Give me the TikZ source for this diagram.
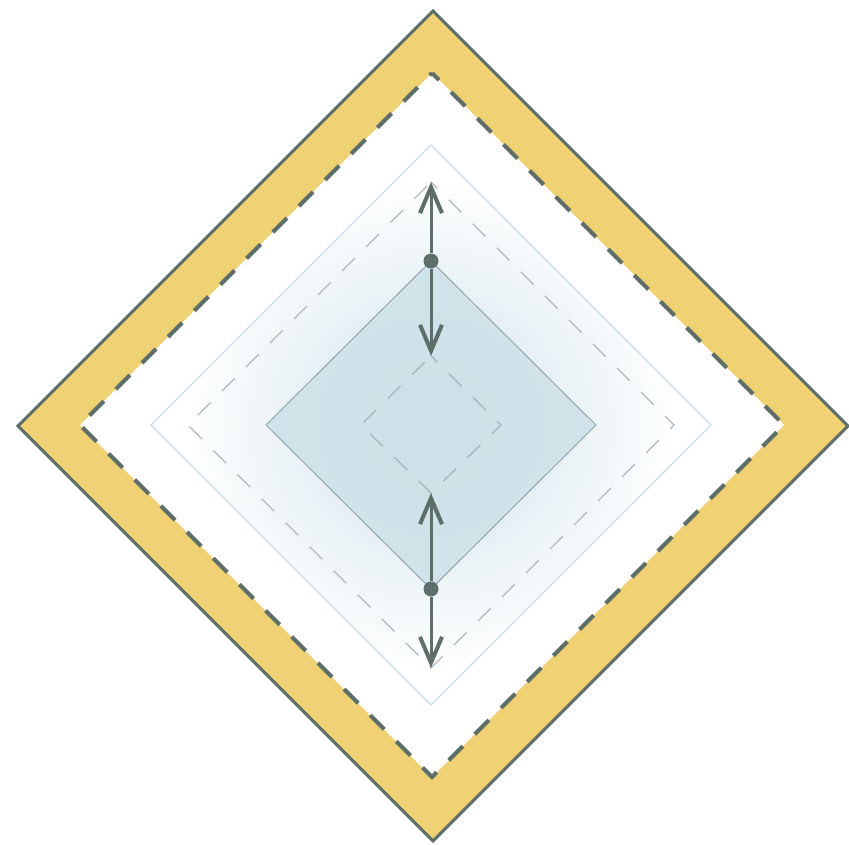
\documentclass[tikz,border=0pt]{standalone}
\usetikzlibrary{arrows.meta}
\definecolor{bandyellow}{HTML}{F0D173}
\definecolor{edgegray}{HTML}{5E6E68}
\definecolor{glowblue}{HTML}{CDE1E8}
\definecolor{rimblue}{HTML}{C9DDE7}
\definecolor{dashgray}{HTML}{B2B8C0}
\definecolor{coregray}{HTML}{94A6AE}
\tikzset{
  bandedge/.style={draw=edgegray,line width=3pt,line join=miter},
  banddash/.style={draw=edgegray,line width=4pt,dash pattern=on 20pt off 17pt,dash phase=10pt},
  softdash/.style={draw=dashgray,line width=1.4pt,dash pattern=on 18pt off 16pt,dash phase=9pt},
  moveline/.style={draw=edgegray,line width=3pt,-{Straight Barb[length=26pt,width=22pt,line width=4pt]}},
  pivot/.style={circle,fill=edgegray,inner sep=0pt,minimum size=15pt}
}
\begin{document}
\begin{tikzpicture}[x=1pt,y=-1pt]
  \useasboundingbox (0,0) rectangle (849,845);
  % outer band
  \coordinate (ot) at (433,11);   \coordinate (or) at (848,426);
  \coordinate (ob) at (433,841);  \coordinate (ol) at (18,426);
  \coordinate (it) at (432,73);   \coordinate (ir) at (784,425);
  \coordinate (ib) at (432,777);  \coordinate (il) at (80,425);
  \fill[bandyellow] (ot) -- (or) -- (ob) -- (ol) -- cycle;
  \fill[white] (it) -- (ir) -- (ib) -- (il) -- cycle;
  \draw[bandedge] (ot) -- (or) -- (ob) -- (ol) -- cycle;
  \draw[banddash] (it) -- (ir) -- (ib) -- (il) -- cycle;
  % glow zone
  \coordinate (gt) at (431,145);  \coordinate (gr) at (711,425);
  \coordinate (gb) at (431,705);  \coordinate (gl) at (151,425);
  \begin{scope}
    \clip (gt) -- (gr) -- (gb) -- (gl) -- cycle;
    \shade[inner color=glowblue,outer color=white] (431,425) circle (245);
  \end{scope}
  \draw[rimblue,line width=1.2pt] (gt) -- (gr) -- (gb) -- (gl) -- cycle;
  % travel limits
  \coordinate (dt) at (431,182);  \coordinate (dr) at (674,425);
  \coordinate (db) at (431,668);  \coordinate (dl) at (188,425);
  \draw[softdash] (dt) -- (dr) -- (db) -- (dl) -- cycle;
  % core
  \coordinate (ct) at (431,261);  \coordinate (cr) at (596,425);
  \coordinate (cb) at (431,589);  \coordinate (cl) at (266,425);
  \fill[glowblue,opacity=0.85] (ct) -- (cr) -- (cb) -- (cl) -- cycle;
  \draw[coregray,line width=1pt] (ct) -- (cr) -- (cb) -- (cl) -- cycle;
  \coordinate (st) at (431,356);  \coordinate (sr) at (501,425);
  \coordinate (sb) at (431,493);  \coordinate (sl) at (361,425);
  \draw[softdash,draw=coregray!80] (st) -- (sr) -- (sb) -- (sl) -- cycle;
  % movement
  \node[pivot] (top) at (ct) {};
  \node[pivot] (bot) at (cb) {};
  \draw[moveline] (top) -- (dt);
  \draw[moveline] (top) -- (st);
  \draw[moveline] (bot) -- (sb);
  \draw[moveline] (bot) -- (db);
\end{tikzpicture}
\end{document}
